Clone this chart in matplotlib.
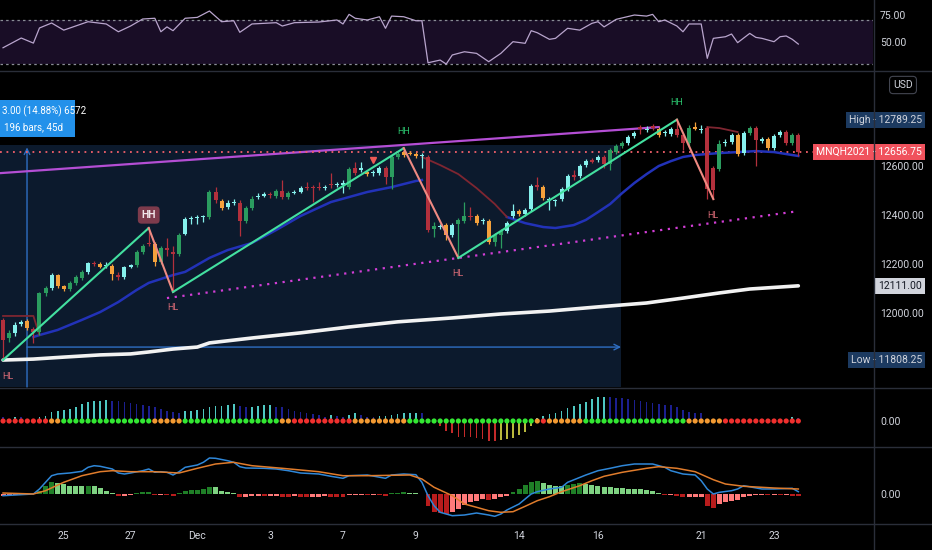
"""MNQH2021 4h chart with RSI, squeeze momentum and MACD panels (TradingView dark look)."""
import numpy as np
import matplotlib
matplotlib.use("Agg")
import matplotlib.pyplot as plt
from matplotlib.lines import Line2D
from matplotlib.patches import Rectangle
from matplotlib.transforms import blended_transform_factory
from matplotlib.ticker import FormatStrFormatter

plt.rcParams['font.family'] = ['Roboto', 'DejaVu Sans']

# ---- price bars (one per 4h bar, index 0..131) ----
opens = [11972, 11898, 11919, 11955, 11968, 11935, 11923, 12082, 12102, 12155,
         12110, 12098, 12123, 12143, 12168, 12204, 12200, 12192, 12192, 12155,
         12147, 12188, 12196, 12249, 12286, 12282, 12208, 12265, 12249, 12241,
         12322, 12384, 12388, 12390, 12392, 12494, 12457, 12433, 12449, 12449,
         12376, 12429, 12474, 12478, 12486, 12478, 12498, 12474, 12490, 12494,
         12514, 12514, 12514, 12510, 12527, 12522, 12524, 12514, 12592, 12584,
         12576, 12570, 12571, 12592, 12555, 12637, 12657, 12653, 12649, 12641,
         12637, 12343, 12351, 12359, 12318, 12363, 12376, 12392, 12396, 12376,
         12376, 12290, 12318, 12335, 12396, 12416, 12404, 12425, 12518, 12514,
         12461, 12457, 12465, 12506, 12559, 12559, 12604, 12620, 12624, 12637,
         12608, 12657, 12682, 12694, 12722, 12755, 12747, 12759, 12751, 12735,
         12731, 12751, 12726, 12694, 12755, 12747, 12755, 12592, 12588, 12694,
         12698, 12726, 12653, 12735, 12755, 12706, 12710, 12673, 12726, 12739,
         12694, 12726]
closes = [11890, 11919, 11951, 11964, 11939, 11923, 12082, 12102, 12155, 12110,
          12098, 12123, 12147, 12168, 12204, 12200, 12188, 12196, 12159, 12147,
          12188, 12196, 12249, 12274, 12282, 12208, 12265, 12257, 12241, 12318,
          12384, 12388, 12390, 12392, 12494, 12461, 12429, 12449, 12453, 12376,
          12429, 12465, 12478, 12486, 12482, 12498, 12474, 12490, 12494, 12510,
          12510, 12510, 12510, 12514, 12522, 12527, 12526, 12588, 12571, 12592,
          12567, 12572, 12592, 12555, 12637, 12649, 12645, 12649, 12641, 12639,
          12339, 12355, 12355, 12318, 12359, 12380, 12396, 12390, 12367, 12378,
          12290, 12318, 12335, 12367, 12416, 12404, 12420, 12518, 12516, 12469,
          12460, 12458, 12506, 12559, 12557, 12600, 12620, 12618, 12637, 12608,
          12665, 12682, 12694, 12718, 12735, 12753, 12751, 12757, 12726, 12737,
          12751, 12726, 12694, 12755, 12753, 12749, 12506, 12502, 12690, 12698,
          12726, 12649, 12735, 12755, 12706, 12704, 12673, 12722, 12739, 12694,
          12726, 12656.75]
highs = [11980, 11931, 11964, 11972, 11976, 11943, 12086, 12110, 12163, 12159,
         12114, 12131, 12155, 12176, 12208, 12212, 12208, 12208, 12200, 12168,
         12192, 12200, 12257, 12282, 12347, 12290, 12274, 12306, 12274, 12327,
         12392, 12396, 12400, 12400, 12502, 12514, 12465, 12461, 12465, 12461,
         12437, 12478, 12490, 12494, 12494, 12506, 12543, 12498, 12502, 12518,
         12535, 12522, 12535, 12522, 12571, 12535, 12543, 12596, 12616, 12616,
         12584, 12584, 12600, 12600, 12645, 12657, 12673, 12661, 12657, 12653,
         12645, 12371, 12363, 12367, 12367, 12388, 12453, 12433, 12404, 12388,
         12384, 12327, 12343, 12376, 12445, 12425, 12429, 12527, 12555, 12522,
         12474, 12465, 12514, 12567, 12584, 12608, 12629, 12633, 12645, 12645,
         12673, 12690, 12702, 12726, 12743, 12767, 12763, 12771, 12759, 12747,
         12759, 12789.25, 12735, 12767, 12780, 12767, 12763, 12600, 12706, 12710,
         12735, 12735, 12743, 12763, 12763, 12718, 12718, 12731, 12747, 12747,
         12735, 12735]
lows = [11808.25, 11882, 11906, 11947, 11931, 11878, 11910, 12070, 12094, 12102,
        12090, 12090, 12114, 12135, 12159, 12192, 12184, 12184, 12135, 12135,
        12139, 12184, 12188, 12241, 12274, 12192, 12200, 12233, 12086, 12233,
        12318, 12363, 12363, 12371, 12384, 12449, 12420, 12425, 12441, 12314,
        12367, 12420, 12465, 12474, 12469, 12469, 12465, 12465, 12486, 12490,
        12502, 12453, 12502, 12502, 12510, 12514, 12490, 12506, 12563, 12576,
        12559, 12559, 12563, 12527, 12506, 12629, 12637, 12645, 12633, 12592,
        12331, 12310, 12343, 12298, 12310, 12225, 12367, 12380, 12359, 12363,
        12282, 12274, 12265, 12327, 12388, 12396, 12396, 12416, 12502, 12461,
        12420, 12437, 12457, 12498, 12543, 12551, 12596, 12612, 12616, 12592,
        12584, 12649, 12673, 12686, 12714, 12731, 12739, 12747, 12718, 12722,
        12722, 12718, 12665, 12678, 12747, 12735, 12465, 12465, 12580, 12682,
        12690, 12641, 12645, 12726, 12600, 12694, 12665, 12665, 12718, 12686,
        12686, 12641]
# bar colour codes from the chart's colouring indicator
candle_codes = ("rgccorggco" "ogggcrocor" "ccggrogrrg" "ccccgroccr" "ggccrgrgcc"
                "rrrcrccgrc" "occrggoooc" "rgcocggroc" "oggccoccro" "ccccrccrcr"
                "gggccrcroc" "crrgocrrgc" "cocgrcoccr" "gr")

# ---- overlays ----
ma_blue1_idx = [5, 6, 9, 13, 16, 19, 22, 24, 28, 30, 34, 37, 41, 45, 49, 54, 60, 64, 68, 69]
ma_blue1_val = [11902, 11910, 11931, 11972, 12004, 12045, 12094, 12123, 12155, 12168,
                12225, 12257, 12286, 12339, 12396, 12453, 12494, 12514, 12539, 12543]
ma_blue2_idx = [83, 86, 89, 91, 94, 96, 98, 100, 102, 104, 106, 108, 110, 112, 114, 116,
                118, 121, 124, 127, 129, 131]
ma_blue2_val = [12392, 12367, 12351, 12347, 12359, 12380, 12412, 12445, 12490, 12531, 12567,
                12600, 12620, 12637, 12645, 12649, 12653, 12657, 12661, 12657, 12649, 12641]
ma_red1_idx = [0, 5, 6]
ma_red1_val = [11988, 11988, 11910]
ma_red2_idx = [69, 72, 75, 78, 81, 83]
ma_red2_val = [12637, 12604, 12567, 12510, 12445, 12392]
ma_red3_idx = [116, 118, 121]
ma_red3_val = [12759, 12755, 12739]
ma200_idx = [0, 5, 10, 16, 21, 24, 28, 32, 34, 41, 49, 57, 65, 74, 82, 90, 98, 106, 112, 118, 123, 131]
ma200_val = [11808, 11812, 11820, 11829, 11833, 11841, 11853, 11861, 11878, 11898, 11919,
             11943, 11964, 11980, 11996, 12008, 12025, 12041, 12061, 12082, 12098, 12111]
upper_trend_idx = [-0.5, 108]
upper_trend_val = [12571, 12759]
lower_trend_idx = [27, 131]
lower_trend_val = [12061, 12416]
pivot_idx = [0, 24, 28, 66, 75, 111, 117]
pivot_val = [11808.25, 12347, 12086, 12673, 12225, 12789.25, 12465]
pivot_lbl = ["HL", "HH", "HL", "HH", "HL", "HH", "HL"]
signal_tri_idx = [61]
signal_tri_val = [12624]
measure_top = 12686
measure_end_idx = 101.8
measure_start_idx = 3.95
measure_arrow_val = 11861
measure_lines = ["3.00 (14.88%) 6572", "196 bars, 45d"]

# ---- RSI ----
rsi_idx = [0, 3, 5, 6, 8, 10, 14, 17, 19, 21, 23, 25, 26, 27, 28, 30, 32, 34, 36, 38,
           39, 41, 45, 46, 48, 52, 55, 56, 57, 58, 60, 62, 63, 64, 66, 68, 69, 70, 72, 73,
           74, 76, 78, 80, 82, 84, 86, 87, 88, 90, 91, 93, 95, 97, 98, 99, 101, 104, 106, 107,
           108, 109, 111, 112, 113, 115, 116, 117, 119, 120, 121, 123, 124, 125, 127, 128, 129, 130, 131]
rsi_val = [44.7, 53.7, 49, 63, 67.6, 61, 68.8, 66.7, 59.5, 64.8, 71.3, 72, 59.5, 64, 60.5, 72, 72.8, 78.7, 68.8, 69.7,
           59, 66.7, 67.9, 64.8, 67.9, 68.5, 70.4, 66.7, 75.6, 72, 70.4, 73.4, 62.7, 74, 73.4, 69.7, 69.7, 30.8, 33.3, 29.6,
           38, 41, 39.5, 31.8, 39.5, 50.3, 48.8, 60.5, 58.6, 52.5, 53.4, 62.7, 61, 67.3, 68.8, 64, 71, 75, 74, 75.6,
           68.8, 70.4, 64.8, 59.5, 66.7, 66.7, 34.9, 53.4, 54.9, 57.4, 49.4, 58, 54.3, 53.4, 50.3, 54.9, 55.6, 52.5, 48.1]

# ---- squeeze momentum ----
squeeze = [3.7, 1, 4.3, 4.3, 1, 1, 3.7, 5, 8.7, 10.3,
           11, 12.3, 14.3, 16.7, 18.7, 19.7, 20.3, 21, 20.3, 20,
           18.7, 17.7, 17, 16.5, 15.3, 13.7, 11.7, 10.3, 8.7, 8.5,
           10.3, 10.4, 11, 11.7, 13.7, 15, 15.3, 16, 16.7, 15.3,
           13.7, 14.3, 15.3, 16, 16.2, 14.3, 13.7, 12, 10.3, 9.3,
           8.3, 7, 5.7, 4.3, 6.3, 5, 4.3, 6.3, 7.7, 5.7,
           4.3, 3.7, 5, 5.2, 5.7, 7, 7.7, 8.3, 8.5, 8.2,
           0.5, -1.5, -5, -9.7, -12.3, -15.7, -15.8, -16.3, -17.3, -18.3,
           -19.7, -20, -19, -18.3, -16.7, -14, -10.7, -5, 2.7, 5,
           6.7, 8.3, 10.3, 12.7, 15, 17, 19.3, 21.7, 23.7, 24.3,
           24.2, 23.3, 22.7, 21.7, 21, 20.3, 19.3, 18.3, 17, 16,
           15.9, 13.7, 11, 9.3, 8.3, 8.2, 0, 0, 0, 0,
           0, 0, 0, 0, 0, 0, 0, 0, 0, 0,
           3.7, 3]
squeeze_dots = ("rrrrrrrroo" "ggggggggggggggg" "ooooo" "gggggggggggggggg" "oo"
                "rrrrrrrrrr" "ooooooooo" "ggggggggggggggggggggg" "o" "r" "oooooo"
                "ggggggggggggggggg" "oooooo" "rrrrrrrrrrrrr")

# ---- MACD ----
macd_idx = [0, 2, 5, 6, 7, 8, 9, 11, 13, 14, 15, 16, 18, 19, 20, 21, 23, 24, 25, 26,
            27, 28, 29, 30, 32, 33, 34, 35, 37, 38, 39, 40, 43, 45, 47, 49, 52, 54, 56, 57,
            60, 63, 64, 66, 68, 69, 70, 71, 72, 74, 76, 78, 80, 81, 82, 83, 85, 87, 88, 90,
            92, 93, 96, 98, 100, 102, 104, 107, 109, 110, 112, 114, 115, 116, 117, 118, 120, 121, 122, 125,
            127, 130, 131]
macd_val = [-1.7, -1, 0, 5, 11.7, 18.3, 20, 21, 22.7, 26.7, 28.3, 27.7, 25, 21, 20, 21, 23.3, 25, 21.7, 22.3,
            21.7, 19, 22.3, 26.7, 29, 31.7, 36, 35.7, 33.3, 31.7, 27.3, 26, 25.7, 25, 23.3, 21, 20, 17.7, 15.7, 18.3,
            19, 15.7, 19, 20, 19.3, 11.7, -1.7, -11.7, -18.3, -21.7, -21, -19, -21, -22.3, -20, -16, -10, 0, 2.3, 5,
            6.7, 11.7, 19, 23.3, 25.7, 28.3, 30, 30, 26.7, 23.3, 20, 19, 13.3, 5, 0, 1.7, 3.3, 5, 8.3, 5,
            5, 5.7, 2.3]
signal_idx = [0, 5, 7, 10, 13, 16, 18, 21, 25, 29, 32, 35, 38, 41, 46, 52, 56, 60, 67, 69,
              71, 74, 76, 78, 80, 82, 84, 86, 88, 90, 92, 95, 97, 99, 102, 106, 108, 111, 114, 117,
              119, 122, 125, 127, 131]
signal_val = [1, 0, 3.3, 11.7, 18.3, 22.3, 23.3, 22.3, 22.3, 21, 25.7, 30, 31.7, 28.3, 25.7, 22.3, 18.3, 18.3, 19, 15,
              6.7, -1.7, -10, -13.3, -16.7, -18.3, -17.7, -12.3, -6.7, -2.7, 2.3, 8.3, 13.3, 17.7, 21.7, 25.7, 27.3, 25.7, 22.3, 14.3,
              10, 7.7, 6.7, 6, 5]
macd_hist = [-1.5, -1, -0.5, 0, 0, 0, 3.3, 8.3, 12.3, 11,
             9.7, 8.3, 8.2, 7.7, 7.8, 7.7, 5.7, 3.3, 1, -1.7,
             -1.7, -1, 1, 1.7, 2.3, -1, -0.7, -1, -1.7, 1,
             3.3, 4.3, 4.3, 5, 7.3, 6.7, 3.3, 2.3, 1, -3.3,
             -3, -2.3, -2, -2.3, -2.3, -2, -2.5, -2.7, -2.3, -2.7,
             -3, -3, -2.7, -2.3, -2.7, -3, -3.3, -1, -1, -1,
             -1.2, -1, -1.3, -1.5, 1, 1.5, 1.7, 1.5, 1, 0.5,
             -11.7, -17.7, -19.3, -20, -18.3, -15, -11, -8.3, -6.7, -5,
             -5.7, -5, -3.3, -1.7, 2.3, 5, 9, 12, 13, 11.5,
             9.5, 8.5, 8, 9, 10, 11, 10.5, 9.5, 8.5, 7.5,
             6.7, 6, 5.7, 5.5, 5.3, 5, 4.3, 3, 1, -1,
             -1, -2.3, -3.3, -3.3, -3.3, -3.3, -11.7, -14.3, -10, -8.3,
             -6.7, -5.7, -3.3, -1.7, -1, -0.7, -1.3, -1, -1.3, -1,
             -1.7, -2.3]

xtick_idx = [10, 21, 32, 44, 56, 68, 85, 98, 115, 127]
xtick_lbl = ["25", "27", "Dec", "3", "7", "9", "14", "16", "21", "23"]

# ---- style ----
BG = "#000000"
TXT = "#d1d4dc"
SEP = "#2a2e39"
W, H = 932, 550
XL = (-0.5, 143.3)
CANDLE = {"c": "#86f0ec", "g": "#2b9c5f", "r": "#b3303c", "o": "#f4a13c"}
DOTS = {"r": "#f0302e", "o": "#f39a32", "g": "#33e833"}

fig = plt.figure(figsize=(W / 100, H / 100), dpi=100, facecolor=BG)


def px_axes(top, bottom):
    a = fig.add_axes([0, 1 - bottom / H, 873 / W, (bottom - top) / H], facecolor=BG)
    a.set_xlim(*XL)
    for s in a.spines.values():
        s.set_visible(False)
    a.yaxis.tick_right()
    a.tick_params(axis="y", length=0, pad=5, labelsize=7.5, labelcolor=TXT)
    a.tick_params(axis="x", bottom=False, labelbottom=False)
    a.yaxis.set_major_formatter(FormatStrFormatter("%.2f"))
    return a


ax_rsi = px_axes(0, 70)
ax = px_axes(71, 387)
ax_sq = px_axes(388, 446)
ax_macd = px_axes(447, 523)

# panel separators
for yy in (70.5, 387.5, 446.5, 523.5):
    fig.add_artist(Line2D([0, 1], [1 - yy / H] * 2, transform=fig.transFigure, color=SEP, lw=1))
fig.add_artist(Line2D([873.5 / W] * 2, [0, 1], transform=fig.transFigure, color=SEP, lw=1))

# ---- RSI ----
ax_rsi.set_ylim(24.1, 88.9)
ax_rsi.axhspan(30, 70, color="#190d26", lw=0, zorder=0)
for lv in (70, 30):
    ax_rsi.axhline(lv, color="#8a8d96", lw=0.9, ls=(0, (2, 2.5)), zorder=1)
ax_rsi.plot(rsi_idx, rsi_val, color="#b9a5cd", lw=0.9, zorder=2)
ax_rsi.set_yticks([50, 75])

# ---- main price panel ----
ax.set_ylim(11698, 12988)
ax.set_yticks([12000, 12200, 12400, 12600])
ax.add_patch(Rectangle((XL[0], 11698), measure_end_idx - XL[0], measure_top - 11698,
                       fc="#0c1a2d", ec="none", zorder=0))
ax.annotate("", xy=(measure_start_idx, measure_top - 10), xytext=(measure_start_idx, 11698),
            arrowprops=dict(arrowstyle="->", color="#2f6ec2", lw=1, shrinkA=0, shrinkB=0), zorder=1)
ax.annotate("", xy=(measure_end_idx, measure_arrow_val), xytext=(measure_start_idx, measure_arrow_val),
            arrowprops=dict(arrowstyle="->", color="#2f6ec2", lw=1, shrinkA=0, shrinkB=0), zorder=1)

ax.plot(ma200_idx, ma200_val, color="#f2f2f2", lw=2.6, solid_capstyle="round", zorder=2)
ax.plot(upper_trend_idx, upper_trend_val, color="#b44ed4", lw=1.6, zorder=2)
ax.plot(lower_trend_idx, lower_trend_val, color="#d23ed6", lw=1.6, ls=(0, (1, 2.5)), zorder=2)
ax.axhline(closes[-1], color="#f2606a", lw=1.3, ls=(0, (1, 2.6)), zorder=2)

ax.plot(ma_blue1_idx, ma_blue1_val, color="#2232b8", lw=1.8, zorder=3)
ax.plot(ma_blue2_idx, ma_blue2_val, color="#2232b8", lw=1.8, zorder=3)
for ix, vv in ((ma_red1_idx, ma_red1_val), (ma_red2_idx, ma_red2_val), (ma_red3_idx, ma_red3_val)):
    ax.plot(ix, vv, color="#7e2631", lw=1.3, zorder=3)

idx = np.arange(len(closes))
o = np.array(opens, float)
c = np.array(closes, float)
cols = [CANDLE[k] for k in candle_codes]
ax.vlines(idx, lows, highs, colors=cols, lw=0.9, zorder=4)
ax.bar(idx, np.maximum(np.abs(c - o), 5), bottom=np.minimum(o, c), width=0.66,
       color=cols, lw=0, zorder=5)

ax.plot(signal_tri_idx, signal_tri_val, marker="v", ms=5, color="#ee5a55", ls="none", zorder=6)

# zigzag legs and pivot labels
for k in range(len(pivot_idx) - 1):
    up = pivot_val[k + 1] > pivot_val[k]
    ax.plot(pivot_idx[k:k + 2], pivot_val[k:k + 2], color="#43e0a0" if up else "#ef8a82",
            lw=1.5, zorder=7)
for k, (pi, pv, lb) in enumerate(zip(pivot_idx, pivot_val, pivot_lbl)):
    if lb == "HH" and k == 1:
        ax.annotate(lb, xy=(pi, pv), xytext=(0, 13), textcoords="offset pixels", ha="center",
                    va="center", fontsize=7.5, color="#f0e6ea", fontweight="bold", zorder=8,
                    bbox=dict(boxstyle="round,pad=0.35", fc="#7d3b4c", ec="none"))
    elif lb == "HH":
        ax.annotate(lb, xy=(pi, pv), xytext=(0, 17), textcoords="offset pixels", ha="center",
                    va="center", fontsize=6.5, color="#2bc46e", zorder=8)
    else:
        # the first pivot sits on the left edge, so its label is left-anchored
        ax.annotate(lb, xy=(pi, pv), xytext=(-1, -17) if k == 0 else (0, -16),
                    textcoords="offset pixels", ha="left" if k == 0 else "center",
                    va="center", fontsize=6.5, color="#d86a76", zorder=8)

# measure info label (box runs off the left edge like the original)
ax.add_patch(Rectangle((-1.5, 12718), 13.4, 151, fc="#2391ea", ec="none", zorder=9))
ax.text(-0.2, 12824, measure_lines[0], ha="left", va="center", fontsize=7, color="white", zorder=10)
ax.text(0.2, 12759, measure_lines[1], ha="left", va="center", fontsize=7, color="white", zorder=10)

# right-side price labels
tr = blended_transform_factory(ax.transAxes, ax.transData)
xr = 922 / 873


def price_tag(val, text, fc, tc):
    ax.text(xr, val, text, transform=tr, ha="right", va="center", fontsize=7.5, color=tc,
            clip_on=False, zorder=10, bbox=dict(boxstyle="square,pad=0.3", fc=fc, ec="none"))


price_tag(highs[111], "High - %.2f" % highs[111], "#1c3a60", TXT)
price_tag(closes[-1], "MNQH2021 - %.2f" % closes[-1], "#f0525d", "white")
price_tag(ma200_val[-1], "%.2f" % ma200_val[-1], "#d1d4dc", "#131722")
price_tag(lows[0], "Low - %.2f" % lows[0], "#1c3a60", TXT)
fig.text(903 / W, 1 - 85 / H, "USD", ha="center", va="center", fontsize=7.5, color=TXT,
         bbox=dict(boxstyle="round,pad=0.35", fc=BG, ec="#434651", lw=0.8))

# ---- squeeze momentum ----
ax_sq.set_ylim(-25, 33)
ax_sq.set_yticks([0])
sq = np.array(squeeze, float)
prev = np.r_[sq[0], sq[:-1]]
sq_cols = np.where(sq >= 0, np.where(sq > prev, "#4ec8c2", "#1c1f90"),
                   np.where(sq < prev, "#c42a2a", "#b9b83c"))
ax_sq.bar(idx, sq, width=0.28, color=sq_cols, lw=0, zorder=2)
ax_sq.scatter(idx, np.zeros(len(idx)), s=14, c=[DOTS[k] for k in squeeze_dots], lw=0, zorder=3)

# ---- MACD ----
ax_macd.set_ylim(-29, 47)
ax_macd.set_yticks([0])
mh = np.array(macd_hist, float)
mprev = np.r_[mh[0], mh[:-1]]
mh_cols = np.where(mh >= 0, np.where(mh >= mprev, "#1f7f27", "#7fd282"),
                   np.where(mh < mprev, "#b81c1c", "#ff7a7a"))
ax_macd.bar(idx, mh, width=0.82, color=mh_cols, lw=0, zorder=2)
ax_macd.plot(macd_idx, macd_val, color="#2f87d8", lw=1.1, zorder=3)
ax_macd.plot(signal_idx, signal_val, color="#e07c2c", lw=1.1, zorder=3)
ax_macd.set_xticks(xtick_idx)
ax_macd.set_xticklabels(xtick_lbl)
ax_macd.tick_params(axis="x", bottom=True, labelbottom=True, length=0, pad=6,
                    labelsize=7.5, labelcolor=TXT)

fig.savefig("out.png", dpi=100, facecolor=BG)
